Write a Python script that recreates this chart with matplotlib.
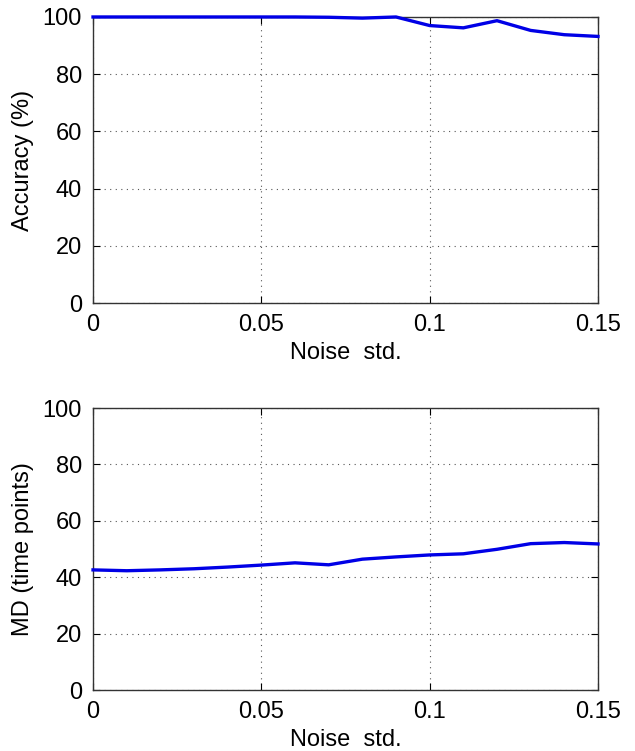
import matplotlib.pyplot as plt
import numpy as np

plt.rcParams['font.family'] = ['Liberation Sans', 'DejaVu Sans']

noise = [0.0, 0.01, 0.02, 0.03, 0.04, 0.05, 0.06, 0.07, 0.08, 0.09, 0.10, 0.11, 0.12, 0.13, 0.14, 0.15]
accuracy = [100, 100, 100, 100, 100, 100, 100, 99.9, 99.6, 100, 97.0, 96.2, 98.7, 95.3, 93.8, 93.2]
md = [42.6, 42.3, 42.6, 43.0, 43.6, 44.3, 45.1, 44.4, 46.4, 47.2, 47.9, 48.3, 49.9, 51.9, 52.3, 51.8]

xticks = [0, 0.05, 0.1, 0.15]
xlabels = ["0", "0.05", "0.1", "0.15"]
yticks = [0, 20, 40, 60, 80, 100]

fig = plt.figure(figsize=(6.35, 7.51), dpi=100)
ax1 = fig.add_axes([0.1465, 0.5965, 0.7952, 0.3809])
ax2 = fig.add_axes([0.1465, 0.0812, 0.7952, 0.3755])

for ax, y, lab in [(ax1, accuracy, "Accuracy (%)"), (ax2, md, "MD (time points)")]:
	ax.plot(noise, y, color='#0000e6', lw=2.4, clip_on=False, zorder=3)
	ax.set_xlim(0, 0.15)
	ax.set_ylim(0, 100)
	ax.set_xticks(xticks)
	ax.set_xticklabels(xlabels)
	ax.set_yticks(yticks)
	ax.grid(True, linestyle=(0, (1, 4)), color='#555555', lw=0.8)
	ax.tick_params(direction='in', top=True, right=True, labelsize=17, length=5)
	ax.tick_params(axis='x', pad=8)
	ax.tick_params(axis='y', pad=8)
	ax.set_xlabel("Noise  std.", fontsize=17, labelpad=4)
	ax.set_ylabel(lab, fontsize=17, labelpad=6)
	for s in ax.spines.values():
		s.set_color('#333333')
		s.set_linewidth(1.0)

fig.savefig("out.png", dpi=100)
